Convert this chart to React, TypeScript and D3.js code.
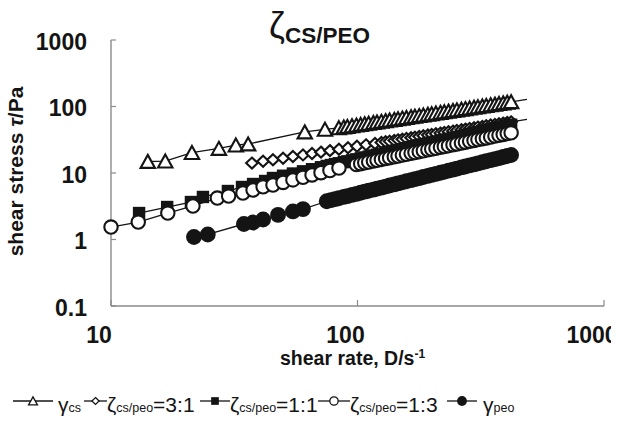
import React from 'react';
import * as d3 from 'd3';

const W = 621;
const H = 426;

// axis ticks
const X_TICKS = [10, 100, 1000];
const X_TICK_LABELS = ['10', '100', '1000'];
const Y_TICKS = [0.1, 1, 10, 100, 1000];
const Y_TICK_LABELS = ['0.1', '1', '10', '100', '1000'];

// shared dense shear-rate sweep (D/s^-1)
const DENSE_RATE = [75, 78, 81, 84, 88, 91, 95, 99, 103, 107, 111, 116, 120, 125, 130, 135, 141, 146, 152, 158, 165, 171, 178, 185, 193, 200, 208, 217, 225, 234, 244, 253, 264, 274, 285, 297, 308, 321, 333, 347, 361, 375, 390, 405, 420];

// γcs (open triangles)
const csRate = [14.1, 16.6, 21.3, 27.4, 32.1, 36.0, 61.1, 73.8, ...DENSE_RATE.slice(3)];
const csStress = [14.9, 15.1, 20.3, 23.4, 26.3, 27.3, 41.4, 45.4,
  47.8, 49.1, 50.0, 51.2, 52.4, 53.6, 54.8, 55.9, 57.3, 58.4, 59.7, 61.1, 62.4, 63.9, 65.2, 66.7, 68.1, 69.8, 71.2, 72.8, 74.4, 76.2, 77.7, 79.5, 81.4, 83.0, 84.9, 86.9, 88.7, 90.8, 92.7, 94.8, 97.0, 99.0, 101.3, 103.4, 105.8, 108.2, 110.5, 113.0, 115.4, 117.8];
const csTail = [487, 128];

// ζcs/peo = 3:1 (open diamonds)
const r31Rate = [37.3, 41.4, 45.4, 49.9, 54.7, 60.1, 65.4, 71.1, 77.3, 84.1, 91.5, 99.5, 108.3, 117.8, ...DENSE_RATE.slice(13)];
const r31Stress = [14.1, 15.0, 15.8, 16.7, 17.7, 18.7, 19.6, 20.6, 21.7, 22.8, 24.0, 25.2, 26.5, 27.8,
  28.8, 29.5, 30.1, 30.9, 31.5, 32.3, 33.0, 33.9, 34.6, 35.5, 36.3, 37.2, 38.0, 38.9, 39.8, 40.7, 41.7, 42.7, 43.6, 44.7, 45.7, 46.8, 48.0, 49.0, 50.2, 51.3, 52.6, 53.8, 55.0, 56.3, 57.6, 58.8];
const r31Tail = [487, 64];

// ζcs/peo = 1:1 (filled squares)
const r11Rate = [13.0, 16.9, 21.1, 23.6, 29.8, 34.0, 37.7, 42.2, 45.4, 49.9, 54.7, 60.1, 65.4, 71.1, ...DENSE_RATE];
const r11Stress = [2.50, 3.08, 3.66, 4.36, 5.36, 6.16, 6.83, 7.58, 8.41, 9.10, 9.82, 10.6, 11.4, 12.2,
  12.76, 13.18, 13.60, 14.01, 14.57, 14.98, 15.52, 16.06, 16.60, 17.13, 17.66, 18.32, 18.84, 19.49, 20.14, 20.78, 21.54, 22.17, 22.93, 23.68, 24.54, 25.28, 26.14, 26.99, 27.96, 28.79, 29.75, 30.81, 31.75, 32.80, 33.96, 35.00, 36.25, 37.39, 38.63, 39.98, 41.20, 42.64, 43.96, 45.49, 47.01, 48.52, 50.12, 51.72, 53.31];

// ζcs/peo = 1:3 (open circles)
const r13Rate = [10, 12.9, 17, 21.5, 27, 30, 34.3, 37.7, 41.4, 45.4, 49.9, 54.7, 60.1, 65.4, 71.1, 77.3, 84.1, ...DENSE_RATE.slice(7)];
const r13Stress = [1.54, 1.83, 2.50, 3.19, 4.20, 4.50, 5.00, 5.55, 6.20, 6.60, 7.22, 7.88, 8.62, 9.34, 10.1, 10.9, 11.85,
  13.41, 13.82, 14.23, 14.63, 15.13, 15.53, 16.02, 16.50, 16.98, 17.55, 18.02, 18.58, 19.14, 19.78, 20.32, 20.95, 21.57, 22.28, 22.89, 23.58, 24.35, 25.03, 25.79, 26.63, 27.37, 28.27, 29.08, 29.96, 30.92, 31.78, 32.79, 33.72, 34.79, 35.86, 36.91, 38.02, 39.13, 40.23];

// γpeo (filled circles)
const peoRate = [21.7, 24.7, 34.6, 37.7, 41.4, 47.6, 54.7, 60.1, ...DENSE_RATE];
const peoStress = [1.09, 1.19, 1.71, 1.80, 2.00, 2.34, 2.64, 2.87,
  3.76, 3.90, 4.04, 4.17, 4.36, 4.50, 4.68, 4.86, 5.05, 5.23, 5.41, 5.63, 5.82, 6.04, 6.26, 6.49, 6.76, 6.98, 7.25, 7.51, 7.82, 8.08, 8.39, 8.70, 9.05, 9.35, 9.70, 10.09, 10.43, 10.82, 11.25, 11.64, 12.11, 12.53, 13.00, 13.51, 13.97, 14.52, 15.02, 15.61, 16.20, 16.78, 17.40, 18.03, 18.65];

// legend text
const LEGEND_MAIN = ['γ', 'ζ', 'ζ', 'ζ', 'γ'];
const LEGEND_SUB = ['cs', 'cs/peo', 'cs/peo', 'cs/peo', 'peo'];
const LEGEND_TAIL = ['', '=3:1', '=1:1', '=1:3', ''];

type MarkerKind = 'tri' | 'dia' | 'sq' | 'circ' | 'dot';

const SERIES: { rate: number[]; stress: number[]; marker: MarkerKind; tail?: number[] }[] = [
  { rate: csRate, stress: csStress, marker: 'tri', tail: csTail },
  { rate: r31Rate, stress: r31Stress, marker: 'dia', tail: r31Tail },
  { rate: r11Rate, stress: r11Stress, marker: 'sq' },
  { rate: r13Rate, stress: r13Stress, marker: 'circ' },
  { rate: peoRate, stress: peoStress, marker: 'dot' },
];

// layout
const PLOT = { left: 111, right: 604, top: 40, bottom: 306 };
const LEGEND_LAYOUT = [
  { x0: 13, x1: 53, tx: 58 },
  { x0: 84, x1: 107, tx: 107 },
  { x0: 200, x1: 230, tx: 230 },
  { x0: 318, x1: 350, tx: 350 },
  { x0: 447, x1: 477, tx: 483 },
];
const FONT = '"Liberation Sans", Arial, Helvetica, sans-serif';
const INK = '#141414';
const AXIS = '#8a8a8a';

function Marker({ kind, x, y, s = 1 }: { kind: MarkerKind; x: number; y: number; s?: number }) {
  const t = `translate(${x},${y}) scale(${s})`;
  const sw = s < 1 ? 1.3 / s : 2.1;
  switch (kind) {
    case 'tri':
      return <path transform={t} d="M0,-6.6L7.2,6.4L-7.2,6.4Z" fill="#fff" stroke={INK} strokeWidth={sw} strokeLinejoin="miter" />;
    case 'dia':
      return <path transform={t} d="M0,-5.5L5.8,0L0,5.5L-5.8,0Z" fill="#fff" stroke={INK} strokeWidth={sw} />;
    case 'sq':
      return <rect transform={t} x={-6.2} y={-6.2} width={12.4} height={12.4} fill={INK} />;
    case 'circ':
      return <circle transform={t} r={6.7} fill="#fff" stroke={INK} strokeWidth={sw} />;
    case 'dot':
      return <circle transform={t} r={7.9} fill={INK} />;
  }
}

export default function App() {
  const x = d3.scaleLog().domain([10, 1000]).range([PLOT.left, PLOT.right]);
  const y = d3.scaleLog().domain([0.1, 1000]).range([PLOT.bottom, PLOT.top]);
  const line = d3.line<[number, number]>().x((d) => x(d[0])).y((d) => y(d[1]));

  return (
    <svg width={W} height={H} style={{ position: 'absolute', left: 0, top: 0, display: 'block', background: '#fff' }} fontFamily={FONT}>
      <defs>
        <clipPath id="pageClip">
          <rect x={0} y={0} width={611} height={H} />
        </clipPath>
      </defs>
      <rect x={0} y={0} width={W} height={H} fill="#fff" />

      {/* title */}
      <text x={269} y={38} fontSize={36} fill={INK}>ζ</text>
      <text x={285} y={43} fontSize={22.5} fontWeight="bold" fill={INK}>CS/PEO</text>

      {/* axes */}
      <line x1={PLOT.left} y1={PLOT.top} x2={PLOT.left} y2={PLOT.bottom} stroke={AXIS} strokeWidth={1.4} />
      <line x1={PLOT.left} y1={PLOT.bottom} x2={PLOT.right} y2={PLOT.bottom} stroke={AXIS} strokeWidth={1.4} />
      {Y_TICKS.map((v) => (
        <line key={'yt' + v} x1={PLOT.left} x2={PLOT.left + 5} y1={y(v)} y2={y(v)} stroke={AXIS} strokeWidth={1.2} />
      ))}
      {X_TICKS.map((v) => (
        <line key={'xt' + v} x1={x(v)} x2={x(v)} y1={PLOT.bottom} y2={PLOT.bottom - 6} stroke={AXIS} strokeWidth={1.2} />
      ))}
      {Y_TICKS.map((v, i) => (
        <text key={'yl' + v} x={87} y={y(v) + 1.5} dy="0.36em" textAnchor="end" fontSize={23} fontWeight="bold" fill={INK}>
          {Y_TICK_LABELS[i]}
        </text>
      ))}
      <g clipPath="url(#pageClip)">
        {X_TICKS.map((v, i) => (
          <text key={'xl' + v} x={x(v) - 12} y={343} textAnchor="middle" fontSize={23} fontWeight="bold" fill={INK}>
            {X_TICK_LABELS[i]}
          </text>
        ))}
      </g>

      {/* axis titles */}
      <text x={280} y={365} fontSize={19.5} fontWeight="bold" fill={INK}>
        shear rate, D/s<tspan dy={-7} fontSize={12}>-1</tspan>
      </text>
      <text transform="translate(23,171.5) rotate(-90)" textAnchor="middle" fontSize={21} fontWeight="bold" fill={INK}>
        shear stress <tspan fontStyle="italic">τ</tspan>/Pa
      </text>

      {/* series */}
      {SERIES.map((s, si) => {
        const pts: [number, number][] = s.rate.map((r, i) => [r, s.stress[i]]);
        const linePts = s.tail ? [...pts, [s.tail[0], s.tail[1]] as [number, number]] : pts;
        return (
          <g key={'s' + si}>
            <path d={line(linePts) || ''} fill="none" stroke={INK} strokeWidth={1.3} />
            {pts.map((p, i) => (
              <Marker key={i} kind={s.marker} x={x(p[0])} y={y(p[1])} />
            ))}
          </g>
        );
      })}

      {/* legend */}
      {LEGEND_LAYOUT.map((L, i) => (
        <g key={'lg' + i}>
          <line x1={L.x0} x2={L.x1} y1={401} y2={401} stroke={INK} strokeWidth={1.3} />
          <Marker kind={SERIES[i].marker} x={(L.x0 + L.x1) / 2} y={401} s={0.62} />
          <text x={L.tx} y={412} fontSize={21} fill={INK}>
            <tspan>{LEGEND_MAIN[i]}</tspan>
            <tspan fontSize={12.5}>{LEGEND_SUB[i]}</tspan>
            {LEGEND_TAIL[i] ? <tspan fontSize={21}>{LEGEND_TAIL[i]}</tspan> : null}
          </text>
        </g>
      ))}
    </svg>
  );
}
